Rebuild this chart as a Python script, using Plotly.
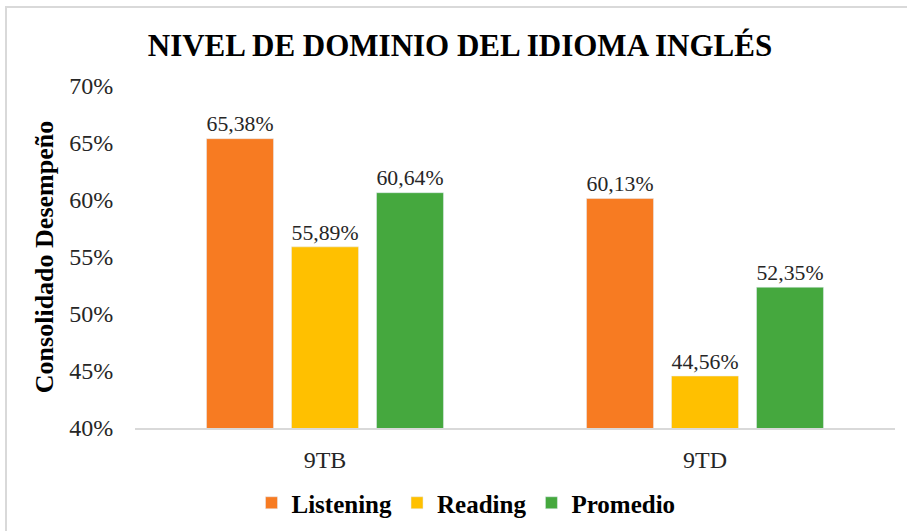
import plotly.graph_objects as go

categories = ["9TB", "9TD"]
listening = [65.38, 60.13]
reading = [55.89, 44.56]
promedio = [60.64, 52.35]
series_names = ["Listening", "Reading", "Promedio"]
colors = ["#F77B22", "#FFC000", "#45A83E"]
y_ticks = [40, 45, 50, 55, 60, 65, 70]

FONT = "Liberation Serif"

def fmt(v):
    return f"{v:.2f}%".replace(".", ",")

fig = go.Figure()
for name, vals, col in zip(series_names, [listening, reading, promedio], colors):
    fig.add_trace(go.Bar(
        name=name, x=categories, y=vals, marker_color=col,
        text=[fmt(v) for v in vals], textposition="outside",
        textfont=dict(family=FONT, size=25, color="#262626"),
        cliponaxis=False,
    ))

W, H = 907, 531
L, R, T, B = 135, 12, 86, 103
pw, ph = W - L - R, H - T - B

fig.update_layout(
    width=W, height=H,
    margin=dict(l=L, r=R, t=T, b=B, autoexpand=False),
    paper_bgcolor="white", plot_bgcolor="white",
    barmode="group", bargap=0.329, bargroupgap=0.212,
    title=dict(text="<b>NIVEL DE DOMINIO DEL IDIOMA INGLÉS</b>",
               x=(460) / W, xanchor="center", y=1 - 45 / H, yanchor="middle",
               font=dict(family=FONT, size=31, color="black")),
    font=dict(family=FONT, color="#262626"),
    showlegend=True,
    legend=dict(orientation="h", x=(466 - L) / pw, xanchor="center",
                y=(H - B - 503) / ph, yanchor="middle",
                font=dict(family=FONT, size=25, color="black", weight="bold"),
                itemwidth=30, tracegroupgap=0,
                traceorder="normal"),
    xaxis=dict(range=[-0.5, 1.5], showgrid=False, showline=True,
               linecolor="#D9D9D9", linewidth=1.5,
               ticks="outside", ticklen=9, tickcolor="rgba(0,0,0,0)",
               tickfont=dict(family=FONT, size=24, color="#262626")),
    yaxis=dict(range=[40, 70], tickvals=y_ticks,
               ticktext=[f"{t}%" for t in y_ticks],
               showgrid=False, zeroline=False, showline=False,
               ticks="outside", ticklen=16, tickcolor="rgba(0,0,0,0)",
               tickfont=dict(family=FONT, size=24, color="#262626"),
               title=dict(text="<b>Consolidado Desempeño</b>", standoff=8,
                          font=dict(family=FONT, size=26, color="black"))),
    shapes=[dict(type="rect", xref="paper", yref="paper",
                 x0=(6 - L) / pw, x1=(915 - L) / pw,
                 y0=(H - B - 545) / ph, y1=(H - B - 7) / ph,
                 line=dict(color="#D9D9D9", width=2), fillcolor="rgba(0,0,0,0)",
                 layer="below")],
)

fig.write_html("out.html", config={"displayModeBar": False},
               post_script="document.body.style.margin='0';")
